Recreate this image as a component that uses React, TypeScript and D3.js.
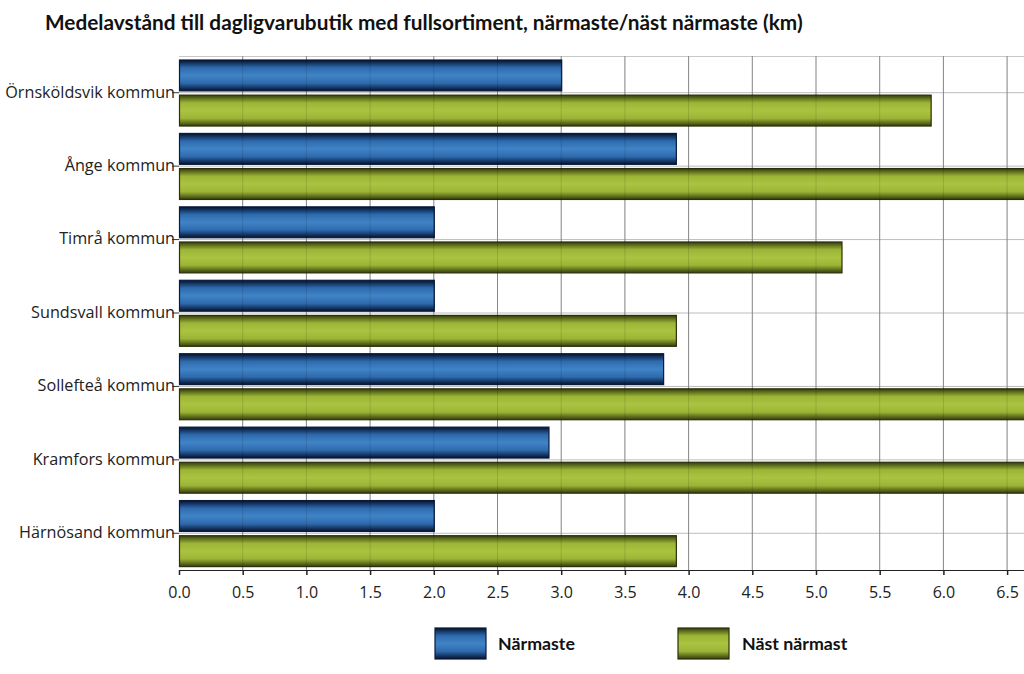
import { useRef, useEffect } from 'react';
import * as d3 from 'd3';

const categories = [
  'Örnsköldsvik kommun',
  'Ånge kommun',
  'Timrå kommun',
  'Sundsvall kommun',
  'Sollefteå kommun',
  'Kramfors kommun',
  'Härnösand kommun',
];
const narmaste = [3.0, 3.9, 2.0, 2.0, 3.8, 2.9, 2.0];
const nastNarmast = [5.9, 7.4, 5.2, 3.9, 7.6, 7.2, 3.9];
const seriesNames = ['Närmaste', 'Näst närmast'];
const xTicks = [0, 0.5, 1, 1.5, 2, 2.5, 3, 3.5, 4, 4.5, 5, 5.5, 6, 6.5];

const W = 1024;
const H = 674;

const App = () => {
  const svgRef = useRef<SVGSVGElement>(null);

  useEffect(() => {
    const svg = d3.select(svgRef.current).attr('width', W).attr('height', H);
    svg.selectAll('*').remove();

    const x = d3.scaleLinear().domain([0, 7]).range([179, 179 + 7 * 127.4]);
    const y = d3.scaleBand().domain(categories).range([56, 570]);
    const sub = d3.scaleBand()
      .domain(seriesNames)
      .range([4, y.bandwidth() - 3.4])
      .paddingInner(0.12);

    const defs = svg.append('defs');
    defs.append('clipPath').attr('id', 'plotClip')
      .append('rect').attr('x', 0).attr('y', 0).attr('width', W).attr('height', H);

    const grad = (id: string, dark: string, mid: string, light: string) => {
      const g = defs.append('linearGradient').attr('id', id)
        .attr('x1', 0).attr('y1', 0).attr('x2', 0).attr('y2', 1);
      g.append('stop').attr('offset', '0%').attr('stop-color', dark);
      g.append('stop').attr('offset', '25%').attr('stop-color', mid);
      g.append('stop').attr('offset', '50%').attr('stop-color', light);
      g.append('stop').attr('offset', '75%').attr('stop-color', mid);
      g.append('stop').attr('offset', '100%').attr('stop-color', dark);
    };
    grad('blueGrad', '#04122e', '#2e6aae', '#4084c6');
    grad('greenGrad', '#353d0c', '#9cb536', '#abc340');
    const colors: Record<string, string> = { 'Närmaste': 'url(#blueGrad)', 'Näst närmast': 'url(#greenGrad)' };
    const strokes: Record<string, string> = { 'Närmaste': '#0a1a3c', 'Näst närmast': '#2a300a' };

    // title
    svg.append('text')
      .attr('x', 45).attr('y', 30)
      .attr('font-family', 'Lato, sans-serif')
      .attr('font-weight', 700)
      .attr('font-size', 20.8)
      .attr('fill', '#111')
      .text('Medelavstånd till dagligvarubutik med fullsortiment, närmaste/näst närmaste (km)');

    const plot = svg.append('g').attr('clip-path', 'url(#plotClip)');

    // grid
    plot.append('line')
      .attr('x1', 179).attr('x2', W).attr('y1', 56.5).attr('y2', 56.5)
      .attr('stroke', '#c8c8c8');
    plot.selectAll('.hgrid').data(categories).enter().append('line')
      .attr('x1', 179).attr('x2', W)
      .attr('y1', d => (y(d) as number) + y.bandwidth() / 2)
      .attr('y2', d => (y(d) as number) + y.bandwidth() / 2)
      .attr('stroke', '#bdbdbd');
    plot.selectAll('.vgrid').data(xTicks.slice(1)).enter().append('line')
      .attr('x1', d => x(d)).attr('x2', d => x(d))
      .attr('y1', 56).attr('y2', 570)
      .attr('stroke', '#9a9a9a');

    // bars
    const rows = categories.map((c, i) => ({ c, vals: [narmaste[i], nastNarmast[i]] }));
    const groups = plot.selectAll('.row').data(rows).enter().append('g')
      .attr('transform', d => `translate(0,${y(d.c)})`);
    groups.selectAll('rect')
      .data(d => d.vals.map((v, j) => ({ key: seriesNames[j], v })))
      .enter().append('rect')
      .attr('x', x(0) + 0.5)
      .attr('y', d => sub(d.key) as number)
      .attr('width', d => x(d.v) - x(0))
      .attr('height', sub.bandwidth())
      .attr('fill', d => colors[d.key])
      .attr('stroke', d => strokes[d.key])
      .attr('stroke-width', 1.2);

    // faint grid through bars
    plot.selectAll('.vgrid2').data(xTicks.slice(1)).enter().append('line')
      .attr('x1', d => x(d)).attr('x2', d => x(d))
      .attr('y1', 56).attr('y2', 570)
      .attr('stroke', '#000').attr('stroke-opacity', 0.12);

    // y axis ticks + labels
    const yAxis = svg.append('g').attr('transform', 'translate(179,0)')
      .call(d3.axisLeft(y).tickSize(7).tickPadding(-3));
    yAxis.select('.domain').remove();
    yAxis.selectAll('line').attr('stroke', '#333');
    yAxis.selectAll('text')
      .attr('font-family', '"Open Sans", sans-serif')
      .attr('font-size', 16.2)
      .attr('fill', '#222')
      .attr('dy', '0.3em');

    // x axis
    const xAxis = svg.append('g').attr('transform', 'translate(0,570)')
      .call(d3.axisBottom(x).tickValues(xTicks).tickFormat(d3.format('.1f')).tickSize(5).tickPadding(12).tickSizeOuter(0));
    xAxis.select('.domain').attr('stroke', '#222').attr('d', `M${x(0)},0.5H${W}`);
    xAxis.selectAll('line').attr('stroke', '#222').attr('stroke-width', 1.5);
    xAxis.selectAll('text')
      .attr('font-family', '"Open Sans", sans-serif')
      .attr('font-size', 16)
      .attr('fill', '#222');

    // legend
    const legend = [
      { key: 'Närmaste', bx: 435, tx: 498 },
      { key: 'Näst närmast', bx: 678, tx: 742 },
    ];
    const lg = svg.selectAll('.legend').data(legend).enter().append('g');
    lg.append('rect')
      .attr('x', d => d.bx).attr('y', 628)
      .attr('width', 51).attr('height', 31)
      .attr('fill', d => colors[d.key])
      .attr('stroke', d => strokes[d.key]).attr('stroke-width', 1.2);
    lg.append('text')
      .attr('x', d => d.tx).attr('y', 650)
      .attr('font-family', 'Lato, sans-serif')
      .attr('font-weight', 700)
      .attr('font-size', 17.8)
      .attr('fill', '#111')
      .text(d => d.key);
  }, []);

  return (
    <div style={{ position: 'absolute', left: 0, top: 0, width: W, height: H, background: '#fff', overflow: 'hidden' }}>
      <svg ref={svgRef}></svg>
    </div>
  );
};

export default App;
